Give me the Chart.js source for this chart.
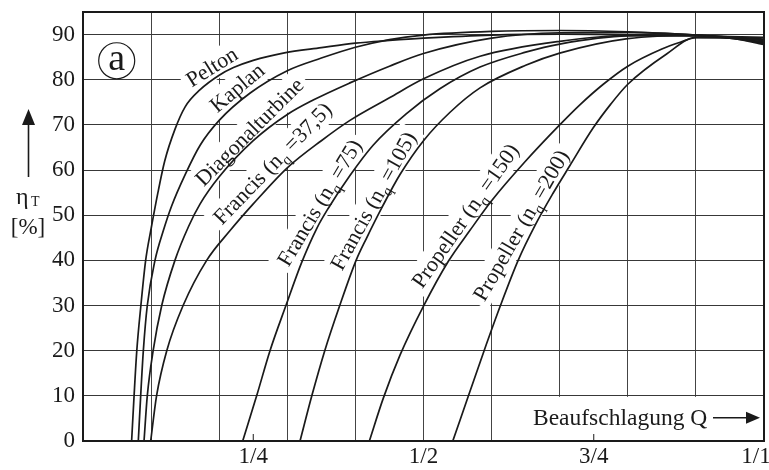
<!DOCTYPE html>
<html lang="de">
<head>
<meta charset="UTF-8">
<title>Wirkungsgrad von Wasserturbinen</title>
<script src="https://cdn.jsdelivr.net/npm/chart.js"></script>
<style>
  html, body { margin: 0; padding: 0; background: #fff; }
  .wrap { width: 769px; height: 470px; position: relative; }
</style>
</head>
<body>
<div class="wrap"><canvas id="eta"></canvas></div>
<script>
// Beaufschlagung Q (Anteil am Nennvolumenstrom) -> Turbinenwirkungsgrad in %
const peltonQ   = [0.0714, 0.075, 0.079, 0.085, 0.092, 0.1, 0.11, 0.12, 0.135, 0.15, 0.172, 0.2, 0.221, 0.25, 0.294, 0.35, 0.4, 0.45, 0.5, 0.6, 0.7, 0.8, 0.9, 1.0];
const peltonEta = [0, 10, 20, 30, 40, 47, 55, 62, 69, 74, 77.8, 81, 82.7, 84.3, 85.9, 87.1, 88.1, 88.7, 89.2, 89.9, 90.1, 90.0, 89.7, 89.4];

const kaplanQ   = [0.0812, 0.0847, 0.0886, 0.0944, 0.1057, 0.118, 0.13, 0.15, 0.172, 0.2, 0.245, 0.3, 0.35, 0.4, 0.45, 0.5, 0.6, 0.7, 0.8, 0.9, 1.0];
const kaplanEta = [0, 10, 20, 30, 40, 46.6, 52, 59, 65.5, 71, 77, 82, 84.8, 87.2, 88.9, 89.9, 90.7, 90.9, 90.6, 89.9, 89.0];

const diagQ   = [0.0896, 0.0944, 0.103, 0.1156, 0.135, 0.155, 0.172, 0.2, 0.25, 0.3, 0.338, 0.392, 0.45, 0.5, 0.6, 0.7, 0.8, 0.9, 1.0];
const diagEta = [0, 10, 20, 30, 40, 47.5, 52.5, 58.5, 66.5, 72.3, 75.5, 79.3, 83, 85.8, 89.2, 90.4, 90.5, 89.9, 88.7];

const f37Q   = [0.0994, 0.108, 0.123, 0.147, 0.1816, 0.216, 0.25, 0.3, 0.35, 0.392, 0.45, 0.5, 0.583, 0.7, 0.8, 0.9, 1.0];
const f37Eta = [0, 10, 20, 30, 40, 46.6, 52.5, 60.5, 66.5, 71, 76, 80.2, 85.2, 88.5, 89.8, 89.8, 88.8];

const f75Q   = [0.2345, 0.255, 0.2746, 0.298, 0.321, 0.343, 0.36, 0.392, 0.426, 0.475, 0.524, 0.583, 0.65, 0.7, 0.8, 0.9, 1.0];
const f75Eta = [0, 10, 20, 30, 39.5, 47, 51.5, 58.8, 65.5, 72.5, 78, 82.8, 86.1, 87.9, 89.7, 89.8, 88.4];

const f105Q   = [0.3187, 0.336, 0.355, 0.377, 0.401, 0.4166, 0.44, 0.4655, 0.5, 0.539, 0.583, 0.65, 0.7, 0.8, 0.9, 1.0];
const f105Eta = [0, 10, 20, 30, 40, 45, 52, 59, 66.5, 72.8, 78.2, 83.2, 85.9, 89.1, 89.8, 88.2];

const p150Q   = [0.4205, 0.441, 0.4655, 0.4998, 0.5365, 0.568, 0.6, 0.65, 0.7, 0.73, 0.764, 0.8, 0.85, 0.877, 0.9, 0.95, 1.0];
const p150Eta = [0, 9.5, 19, 29.8, 39.8, 46.6, 53.2, 62, 70, 74.5, 79, 83, 86.8, 88.3, 89.3, 89.3, 88.0];

const p200Q   = [0.543, 0.566, 0.589, 0.613, 0.639, 0.664, 0.69, 0.715, 0.749, 0.775, 0.8, 0.857, 0.9, 0.95, 1.0];
const p200Eta = [0, 10, 20, 30, 40, 47.8, 54.8, 61, 69.3, 74.6, 79, 85.7, 89.4, 89.2, 87.8];

// Achsen
const gridQ = [0, 0.1, 0.2, 0.3, 0.4, 0.5, 0.6, 0.7, 0.8, 0.9, 1];
const labelQ = [0.25, 0.5, 0.75, 1];
const labelQText = ['1/4', '1/2', '3/4', '1/1\u2002\u2009'];
const etaTicks = [0, 10, 20, 30, 40, 50, 60, 70, 80, 90];

const INK = '#1a1a1a';
const SERIF = '"Liberation Serif", "DejaVu Serif", serif';
const near = (a, b) => Math.abs(a - b) < 1e-6;

function curve(qs, etas) {
    return {
        data: qs.map((q, i) => ({ x: q, y: etas[i] })),
        borderColor: INK,
        borderWidth: 1.7,
        pointRadius: 0,
        fill: false,
        cubicInterpolationMode: 'monotone'
    };
}

// Kurvenbeschriftungen: [Textteile, Q, eta, Winkel]
const curveLabels = [
    [[['Pelton']], 0.189, 82.9, -32],
    [[['Kaplan']], 0.226, 78.3, -40],
    [[['Diagonalturbine']], 0.244, 68.5, -45],
    [[['Francis (n'], ['q', 1], [' =37,5)']], 0.278, 61.5, -46],
    [[['Francis (n'], ['q', 1], [' =75)']], 0.347, 52.8, -59],
    [[['Francis (n'], ['q', 1], [' =105)']], 0.426, 53.2, -61],
    [[['Propeller (n'], ['q', 1], [' =150)']], 0.561, 49.9, -55],
    [[['Propeller (n'], ['q', 1], [' =200)']], 0.643, 47.8, -60]
];

const FS = 22;   // Kurvenbeschriftung
const TS = 23;   // Achsenzahlen

function partsWidth(ctx, parts, size) {
    let w = 0;
    parts.forEach(p => {
        ctx.font = (p[1] ? Math.round(size * 0.68) : size) + 'px ' + SERIF;
        w += ctx.measureText(p[0]).width;
    });
    return w;
}

function drawParts(ctx, parts, size, x0, base) {
    let x = x0;
    parts.forEach(p => {
        const s = p[1] ? Math.round(size * 0.68) : size;
        ctx.font = s + 'px ' + SERIF;
        ctx.fillText(p[0], x, base + (p[1] ? size * 0.25 : 0));
        x += ctx.measureText(p[0]).width;
    });
}

const decor = {
    id: 'decor',
    beforeDatasetsDraw(chart) {
        const { ctx, scales: { x, y }, chartArea: a } = chart;
        ctx.save();
        ctx.fillStyle = '#fff';
        curveLabels.forEach(l => {
            const w = partsWidth(ctx, l[0], FS);
            ctx.save();
            ctx.translate(x.getPixelForValue(l[1]), y.getPixelForValue(l[2]));
            ctx.rotate(l[3] * Math.PI / 180);
            ctx.fillRect(-w / 2 - 5, -FS * 0.62, w + 10, FS * 1.24);
            ctx.restore();
        });
        // Feld fuer die Achsbeschriftung unten rechts
        const bx = x.getPixelForValue(0.65), by = y.getPixelForValue(10);
        ctx.fillRect(bx, by + 1, a.right - bx, a.bottom - by - 2);
        ctx.restore();
    },
    afterDatasetsDraw(chart) {
        const { ctx, scales: { x, y }, chartArea: a } = chart;
        ctx.save();
        ctx.fillStyle = INK;
        ctx.strokeStyle = INK;
        ctx.textBaseline = 'alphabetic';
        curveLabels.forEach(l => {
            const w = partsWidth(ctx, l[0], FS);
            ctx.save();
            ctx.translate(x.getPixelForValue(l[1]), y.getPixelForValue(l[2]));
            ctx.rotate(l[3] * Math.PI / 180);
            drawParts(ctx, l[0], FS, -w / 2, FS * 0.33);
            ctx.restore();
        });

        // Kennbuchstabe a
        const cx = x.getPixelForValue(0.0495), cy = y.getPixelForValue(84.2);
        ctx.beginPath();
        ctx.fillStyle = '#fff';
        ctx.arc(cx, cy, 18, 0, Math.PI * 2);
        ctx.fill();
        ctx.lineWidth = 1.2;
        ctx.stroke();
        ctx.fillStyle = INK;
        ctx.font = '38px ' + SERIF;
        ctx.textAlign = 'center';
        ctx.fillText('a', cx, cy + 9);

        // Beaufschlagung Q mit Pfeil
        ctx.textAlign = 'left';
        ctx.font = '23.5px ' + SERIF;
        const by = y.getPixelForValue(3.5);
        ctx.fillText('Beaufschlagung Q', 533, by);
        const ay = by - 7.5;
        ctx.lineWidth = 1.5;
        ctx.beginPath();
        ctx.moveTo(713, ay);
        ctx.lineTo(748, ay);
        ctx.stroke();
        ctx.beginPath();
        ctx.moveTo(760, ay);
        ctx.lineTo(746, ay - 6);
        ctx.lineTo(746, ay + 6);
        ctx.closePath();
        ctx.fill();

        // kurze Teilstriche bei 1/4 und 3/4
        ctx.lineWidth = 1;
        [0.25, 0.75].forEach(v => {
            const px = x.getPixelForValue(v);
            ctx.beginPath();
            ctx.moveTo(px, a.bottom);
            ctx.lineTo(px, a.bottom - 7);
            ctx.stroke();
        });

        // Rahmen
        ctx.lineWidth = 2;
        ctx.strokeRect(a.left, a.top, a.right - a.left, a.bottom - a.top);

        // y-Achsentitel mit Pfeil
        ctx.lineWidth = 1.6;
        ctx.beginPath();
        ctx.moveTo(28.5, 177);
        ctx.lineTo(28.5, 122);
        ctx.stroke();
        ctx.beginPath();
        ctx.moveTo(28.5, 109);
        ctx.lineTo(22, 125);
        ctx.lineTo(35, 125);
        ctx.closePath();
        ctx.fill();
        ctx.textAlign = 'left';
        ctx.font = '24px ' + SERIF;
        ctx.fillText('\u03b7', 16, 204);
        ctx.font = '14px ' + SERIF;
        ctx.fillText('T', 31, 206);
        ctx.font = '23px ' + SERIF;
        ctx.textAlign = 'center';
        ctx.fillText('[%]', 28, 234);
        ctx.restore();
    }
};

new Chart(document.getElementById('eta'), {
    type: 'line',
    data: {
        datasets: [
            curve(peltonQ, peltonEta),
            curve(kaplanQ, kaplanEta),
            curve(diagQ, diagEta),
            curve(f37Q, f37Eta),
            curve(f75Q, f75Eta),
            curve(f105Q, f105Eta),
            curve(p150Q, p150Eta),
            curve(p200Q, p200Eta)
        ]
    },
    options: {
        responsive: true,
        maintainAspectRatio: false,
        animation: false,
        layout: { padding: { left: 0, right: 5, top: 12, bottom: 0 } },
        plugins: { legend: { display: false }, tooltip: { enabled: false } },
        scales: {
            x: {
                type: 'linear',
                min: 0,
                max: 1,
                afterBuildTicks: s => {
                    const vals = gridQ.concat([0.25, 0.75]).sort((p, q) => p - q);
                    s.ticks = vals.map(v => ({ value: v }));
                },
                afterFit: s => { s.height = 29; s.paddingLeft = 0; s.paddingRight = 0; },
                grid: {
                    drawTicks: false,
                    lineWidth: 1,
                    color: c => (c.tick && gridQ.some(g => near(g, c.tick.value))) ? '#444' : 'rgba(0,0,0,0)'
                },
                border: { color: INK, width: 2 },
                ticks: {
                    autoSkip: false,
                    maxRotation: 0,
                    padding: 2,
                    color: INK,
                    font: { family: SERIF, size: TS },
                    callback: v => {
                        const i = labelQ.findIndex(l => near(l, v));
                        return i >= 0 ? labelQText[i] : '';
                    }
                }
            },
            y: {
                type: 'linear',
                min: 0,
                max: 95,
                afterBuildTicks: s => { s.ticks = etaTicks.map(v => ({ value: v })); },
                afterFit: s => { s.width = 83; s.paddingTop = 0; s.paddingBottom = 0; },
                grid: { drawTicks: false, color: '#383838', lineWidth: 1 },
                border: { color: INK, width: 2 },
                ticks: { padding: 8, color: INK, font: { family: SERIF, size: TS } }
            }
        }
    },
    plugins: [decor]
});
</script>
</body>
</html>
